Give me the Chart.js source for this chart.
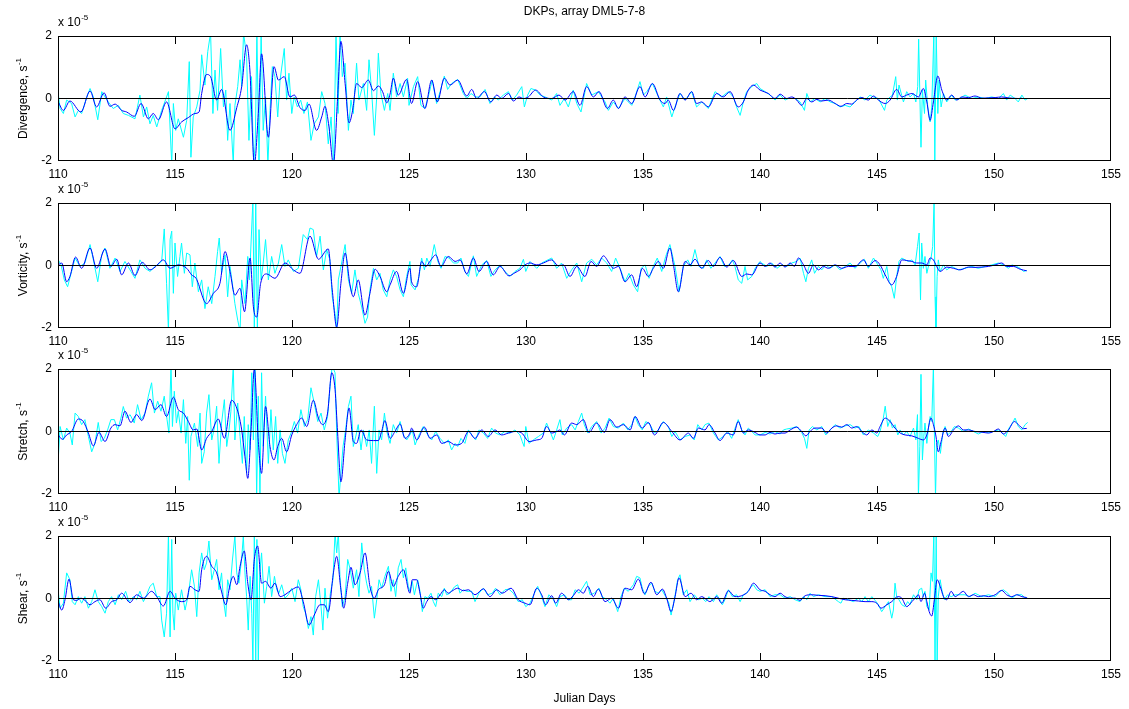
<!DOCTYPE html>
<html>
<head>
<meta charset="utf-8">
<script src="https://cdn.jsdelivr.net/npm/chart.js@4.4.0/dist/chart.umd.min.js"></script>
<style>
    html, body { margin: 0; padding: 0; background: #fff; }
    #wrap { position: relative; width: 1129px; height: 709px; }
    #wrap canvas { position: absolute; left: 0; top: 0; }
</style>
</head>
<body>
<div id="wrap">
    <canvas id="c0" width="1129" height="709"></canvas>
    <canvas id="c1" width="1129" height="709"></canvas>
    <canvas id="c2" width="1129" height="709"></canvas>
    <canvas id="c3" width="1129" height="709"></canvas>
</div>
<script>
// DKPs, array DML5-7-8 - four stacked panels, values in units of 1e-5 s^-1
// Each series is a list of [julian day, value] readings

const chartTitle = 'DKPs, array DML5-7-8';
const xLabel = 'Julian Days';
const panelLabels = ['Divergence, s', 'Vorticity, s', 'Stretch, s', 'Shear, s'];
const xTickValues = [110, 115, 120, 125, 130, 135, 140, 145, 150, 155];
const yTickValues = [-2, 0, 2];

// Divergence
const divCyan = [
    [110.01,0.16],[110.09,-0.32],[110.23,-0.48],[110.37,-0.05],[110.58,-0.16],[110.73,-0.59],[110.87,-0.38],[111.01,-0.48],[111.23,0.05],[111.37,0.32],[111.51,0.05],[111.7,-0.68],[111.87,0.22],[112.01,0.05],[112.15,-0.11],[112.36,-0.32],[112.58,-0.22],[112.79,-0.48],[113.01,-0.54],[113.29,-0.65],[113.5,0.11],[113.65,-0.59],[113.79,-0.27],[113.93,-0.81],[114.07,-0.54],[114.22,-0.91],[114.43,-0.38],[114.64,0.05],[114.72,0.22],[114.86,-2.1],[114.93,-0.16],[115.03,-1.02],[115.14,-0.65],[115.36,-1.24],[115.5,-0.7],[115.61,1.18],[115.68,-1.88],[115.78,-0.59],[115.93,-0.27],[116.07,0.27],[116.14,1.4],[116.28,0.43],[116.4,1.5],[116.52,2.1],[116.62,-0.48],[116.71,0.91],[116.82,-0.38],[116.95,1.6],[117.07,-0.27],[117.17,0.27],[117.25,-1.34],[117.35,-0.16],[117.49,-2.1],[117.56,-0.22],[117.68,0.38],[117.78,1.24],[117.85,0.38],[117.93,2.1],[118.06,1.34],[118.16,-1.34],[118.27,0.7],[118.36,-2.1],[118.43,-1.45],[118.5,2.1],[118.59,-2.1],[118.68,2.1],[118.77,-1.02],[118.87,0.05],[118.97,-2.1],[119.06,-0.38],[119.16,1.02],[119.27,0.7],[119.39,-0.59],[119.49,0.59],[119.67,1.6],[119.77,-0.05],[119.87,0.81],[119.99,-0.48],[120.09,0.05],[120.23,-0.27],[120.37,-0.05],[120.51,-0.48],[120.66,-0.11],[120.81,-1.34],[120.95,-0.81],[121.13,-0.59],[121.27,0.22],[121.41,-0.16],[121.55,-1.45],[121.67,-0.59],[121.78,-2.1],[121.88,2.1],[121.97,-0.48],[122.05,2.1],[122.15,0.7],[122.27,1.13],[122.41,-1.02],[122.52,-0.05],[122.62,-0.48],[122.76,1.13],[122.86,-0.05],[123.05,0.48],[123.19,-0.38],[123.29,1.24],[123.4,0.27],[123.52,-1.18],[123.62,0.05],[123.69,1.45],[123.8,0.16],[123.95,-0.38],[124.09,0.16],[124.19,-0.38],[124.33,0.81],[124.47,0.05],[124.62,0.48],[124.76,0.05],[124.94,0.65],
    [125.0,-0.22],[125.19,0.38],[125.37,0.7],[125.51,-0.22],[125.68,-0.32],[125.86,0.16],[125.99,0.59],[126.18,-0.16],[126.33,0.22],[126.51,0.72],[126.65,0.29],[126.82,0.48],[127.08,0.61],[127.32,0.16],[127.47,0],[127.65,0.16],[127.85,0.05],[128.03,0.05],[128.25,0.29],[128.46,-0.16],[128.65,0.05],[128.82,-0.05],[129.03,0.11],[129.25,0.22],[129.42,-0.05],[129.6,0.11],[129.82,0.38],[129.93,-0.27],[130.07,0.11],[130.21,0.32],[130.41,0.27],[130.6,0.11],[130.81,0.05],[131.1,-0.05],[131.31,0.16],[131.45,-0.22],[131.64,0],[131.81,-0.27],[132.02,0.27],[132.17,-0.16],[132.35,-0.43],[132.59,0.48],[132.81,0.11],[133.09,0.22],[133.38,-0.11],[133.52,-0.38],[133.73,-0.11],[133.95,-0.32],[134.23,0],[134.52,-0.22],[134.66,0.05],[134.87,0.54],[135.02,0.11],[135.16,0.22],[135.4,0.48],[135.66,0.05],[135.87,-0.27],[136.01,0.05],[136.23,-0.59],[136.37,-0.27],[136.58,0.16],[136.8,-0.05],[137.08,0.22],[137.29,-0.27],[137.51,-0.11],[137.79,-0.32],[138.08,0.22],[138.36,0.05],[138.65,0.22],[138.86,0.05],[139.0,-0.27],[139.15,-0.54],[139.29,-0.11],[139.43,0.22],[139.65,0.38],[139.86,0.48],[140.0,0.32],
    [140.22,0.22],[140.43,0.11],[140.64,-0.05],[140.86,0.11],[141.07,-0.05],[141.21,0],[141.5,0],[141.71,-0.11],[141.9,-0.38],[142.0,0.16],[142.14,-0.11],[142.35,0],[142.57,-0.11],[142.78,0],[143.0,-0.11],[143.21,-0.16],[143.42,-0.27],[143.64,-0.22],[143.85,-0.27],[144.06,-0.11],[144.28,0.05],[144.49,-0.05],[144.7,0.11],[144.85,0.05],[145.06,0],[145.32,-0.38],[145.42,-0.05],[145.56,0.05],[145.66,0.11],[145.8,0.7],[145.87,-0.05],[145.94,0.43],[146.13,-0.11],[146.27,0.22],[146.41,0.05],[146.56,0.16],[146.66,-0.11],[146.74,0.38],[146.78,1.9],[146.88,-1.56],[146.94,0.27],[147.03,-0.48],[147.08,0.59],[147.17,-0.27],[147.27,-0.75],[147.34,-0.27],[147.43,2.1],[147.47,-2.1],[147.53,2.1],[147.6,-0.48],[147.65,0.59],[147.74,-0.27],[147.84,0.16],[147.98,-0.11],[148.19,0.11],[148.34,-0.05],[148.55,0],[148.76,0.11],[149.05,0],[149.33,0.05],[149.62,0],[149.9,0.05],[150.19,0],[150.4,0.16],[150.54,-0.05],[150.69,0.11],[150.9,0],[151.04,-0.11],[151.19,0.11],[151.33,-0.05],[151.44,0]
];
const divBlue = [
    [110.01,-0.11],[110.23,-0.38],[110.51,-0.08],[110.98,-0.43],[111.37,0.24],[111.65,-0.27],[111.97,0.18],[112.22,-0.25],[112.44,-0.18],[112.72,-0.38],[112.93,-0.43],[113.26,-0.57],[113.55,-0.16],[113.86,-0.65],[114.07,-0.48],[114.29,-0.68],[114.64,-0.11],[115.0,-0.97],[115.28,-0.75],[115.57,-0.61],[115.85,-0.48],[116.03,-0.43],[116.14,0.16],[116.35,0.77],[116.52,0.7],[116.78,-0.05],[116.99,0.29],[117.35,-1.02],[117.64,-0.29],[117.85,0.38],[118.06,1.72],[118.2,0.91],[118.39,-2.1],[118.56,-0.48],[118.7,1.43],[118.99,-1.24],[119.23,1.02],[119.42,0.59],[119.67,0.7],[119.91,0.05],[120.1,0.11],[120.34,-0.29],[120.56,-0.38],[120.73,-0.18],[121.05,-1.02],[121.27,-0.59],[121.41,-0.25],[121.58,-0.91],[121.77,-2.1],[121.95,0.05],[122.09,1.83],[122.27,0.48],[122.44,-0.78],[122.59,-0.38],[122.76,0.48],[122.98,0.35],[123.26,0.59],[123.48,0.25],[123.69,0.4],[123.87,0.22],[124.05,-0.14],[124.19,0.14],[124.33,0.65],[124.54,0.11],[124.9,0.61],
    [125.11,-0.16],[125.37,0.54],[125.68,-0.32],[125.97,0.59],[126.21,-0.11],[126.51,0.65],[126.75,0.43],[127.08,0.59],[127.47,0.08],[127.68,0.29],[127.89,0],[128.22,0.22],[128.5,-0.11],[128.75,0.11],[128.96,0],[129.25,0.16],[129.46,-0.08],[129.7,0.05],[129.89,0],[130.1,0.05],[130.41,0.27],[130.74,0.05],[131.1,0],[131.41,0.11],[131.67,-0.05],[132.02,0.22],[132.31,-0.22],[132.59,0.38],[132.88,0.05],[133.12,0.22],[133.48,-0.32],[133.73,-0.05],[133.95,-0.32],[134.23,0.05],[134.52,-0.16],[134.87,0.38],[135.09,0.05],[135.4,0.48],[135.73,-0.05],[135.94,-0.16],[136.08,-0.05],[136.3,-0.38],[136.58,0.16],[136.8,-0.05],[137.08,0.22],[137.29,-0.16],[137.51,-0.11],[137.79,-0.27],[138.15,0.16],[138.43,0.05],[138.72,0.22],[139.07,-0.27],[139.29,-0.11],[139.5,0.27],[139.72,0.43],[140.0,0.27],
    [140.36,0.16],[140.64,0],[140.86,0.14],[141.14,0],[141.36,0.05],[141.57,-0.05],[141.78,-0.22],[142.0,0],[142.21,-0.11],[142.43,-0.03],[142.64,-0.08],[142.92,-0.05],[143.21,-0.16],[143.46,-0.25],[143.71,-0.16],[143.92,-0.18],[144.13,-0.05],[144.35,0.03],[144.63,-0.05],[144.85,0.08],[145.06,-0.05],[145.35,-0.16],[145.56,-0.05],[145.84,0.29],[146.06,0.05],[146.27,0.11],[146.49,0.16],[146.77,0.05],[146.98,0.32],[147.13,-0.11],[147.27,-0.7],[147.41,-0.11],[147.6,0.72],[147.77,0.27],[147.98,-0.05],[148.19,0.11],[148.41,-0.05],[148.62,0.05],[148.91,0.03],[149.19,0.08],[149.48,0.01],[149.76,0.02],[150.05,0.03],[150.33,0.05],[150.62,0.02],[151.04,0],[151.2,0.01]
];

// Vorticity
const vortCyan = [
    [110.01,0.18],[110.13,0.02],[110.27,-0.46],[110.41,-0.68],[110.56,-0.25],[110.73,0.24],[110.94,-0.03],[111.15,0.08],[111.37,0.67],[111.51,0.18],[111.7,-0.52],[111.87,0.34],[112.01,0.56],[112.22,-0.09],[112.44,0.24],[112.65,-0.19],[112.86,0.13],[113.08,-0.14],[113.29,-0.41],[113.5,0.18],[113.72,-0.09],[113.93,-0.19],[114.15,-0.03],[114.43,0.13],[114.54,1.17],[114.64,-0.57],[114.72,-2.1],[114.79,0.83],[114.86,1.1],[114.93,-0.89],[115.0,0.72],[115.11,-0.35],[115.21,0.29],[115.28,0.72],[115.4,-0.25],[115.5,0.4],[115.64,0.34],[115.74,-0.68],[115.85,0.08],[116.0,-0.84],[116.14,-0.46],[116.28,-1.38],[116.42,-0.68],[116.57,-1.22],[116.71,-0.35],[116.82,0.45],[116.89,0.88],[116.99,-0.25],[117.14,0.34],[117.25,-1.0],[117.35,-0.03],[117.45,-0.57],[117.56,-1.22],[117.68,-1.75],[117.78,-2.1],[117.85,-0.46],[117.99,-1.22],[118.11,0.29],[118.18,-0.46],[118.25,0.72],[118.33,2.1],[118.39,-2.1],[118.45,2.1],[118.52,-2.1],[118.59,1.15],[118.68,-0.46],[118.77,0.08],[118.87,0.83],[118.99,-0.46],[119.13,0.29],[119.27,-0.25],[119.42,0.08],[119.56,0.67],[119.7,-0.03],[119.84,0.18],[120.06,-0.19],[120.27,-0.09],[120.48,0.99],[120.66,0.83],[120.77,1.2],[120.91,1.15],[121.05,0.29],[121.2,0.94],[121.34,-0.14],[121.48,0.51],[121.62,0.18],[121.72,-1.0],[121.84,-1.54],[121.91,-2.1],[121.98,-0.46],[122.12,0.08],[122.27,0.67],[122.41,-0.46],[122.55,-0.89],[122.69,-0.14],[122.83,-0.89],[122.98,-1.33],[123.12,-1.85],[123.23,-1.65],[123.33,-0.78],[123.48,-0.09],[123.62,-0.46],[123.76,-0.25],[123.9,-0.78],[124.05,-1.0],[124.19,-0.46],[124.33,-0.14],[124.47,-0.35],[124.62,-0.78],[124.76,-1.0],[124.9,-0.35],[125.04,0.13],
    [125.09,-0.62],[125.26,-0.78],[125.43,-0.35],[125.54,0.24],[125.66,-0.14],[125.76,0.24],[125.9,-0.03],[126.08,0.67],[126.23,0.13],[126.37,-0.09],[126.54,0.29],[126.71,0.24],[126.9,0.08],[127.08,0.08],[127.22,0.24],[127.39,-0.19],[127.54,-0.35],[127.75,0.31],[127.89,-0.35],[128.11,0.02],[128.32,0.16],[128.5,-0.35],[128.68,-0.14],[128.89,0.02],[129.1,-0.19],[129.32,-0.35],[129.53,-0.19],[129.74,-0.09],[129.89,0.2],[129.99,-0.19],[130.17,0.13],[130.46,-0.09],[130.67,0.08],[131.1,0.24],[131.31,-0.09],[131.52,0.08],[131.74,-0.41],[131.95,-0.14],[132.17,0.08],[132.38,-0.52],[132.59,0.08],[132.81,0.2],[133.02,0.02],[133.23,0.24],[133.45,0.08],[133.66,-0.19],[133.83,0.24],[134.02,-0.09],[134.23,-0.52],[134.4,-0.25],[134.59,-0.62],[134.77,-0.84],[134.92,-0.09],[135.09,0.02],[135.26,-0.41],[135.44,-0.03],[135.61,0.24],[135.8,-0.19],[135.97,0.29],[136.15,0.67],[136.37,-0.03],[136.54,-0.84],[136.72,-0.03],[136.91,0.18],[137.05,-0.03],[137.22,0.51],[137.39,-0.03],[137.58,-0.09],[137.72,0.18],[137.9,-0.09],[138.08,0.08],[138.29,0.29],[138.48,-0.03],[138.68,0.02],[138.82,0.18],[138.93,-0.03],[139.07,-0.46],[139.22,-0.57],[139.36,-0.03],[139.47,-0.46],[139.65,-0.35],[139.79,-0.09],[140.0,0.13],
    [140.07,0.08],[140.29,-0.03],[140.5,0.08],[140.72,-0.09],[140.93,0.02],[141.14,-0.03],[141.36,0.08],[141.57,0.13],[141.71,0.24],[141.86,-0.25],[141.96,-0.52],[142.07,-0.09],[142.21,0.18],[142.33,-0.25],[142.5,-0.03],[142.64,-0.14],[142.81,0.02],[142.99,-0.09],[143.21,0.02],[143.42,-0.14],[143.64,-0.03],[143.85,0.08],[144.06,-0.09],[144.28,0.08],[144.46,0.2],[144.63,-0.09],[144.85,0.24],[144.99,0.08],[145.17,-0.14],[145.27,-0.41],[145.42,-0.03],[145.52,-0.52],[145.63,-0.68],[145.74,-1.05],[145.84,-0.35],[145.94,0.13],[146.06,0.24],[146.2,0.18],[146.34,0.13],[146.49,0.18],[146.63,0.02],[146.73,0.61],[146.8,1.04],[146.86,-1.1],[146.91,0.72],[146.98,-0.09],[147.05,0.29],[147.13,-0.25],[147.23,0.08],[147.31,0.24],[147.38,0.61],[147.44,2.1],[147.48,-1.0],[147.52,-2.1],[147.57,-0.35],[147.62,0.18],[147.7,-0.19],[147.84,0.02],[147.98,-0.14],[148.19,-0.03],[148.48,-0.14],[148.76,-0.09],[149.05,-0.03],[149.33,-0.09],[149.62,-0.03],[149.9,0.02],[150.19,0.08],[150.4,0.02],[150.62,-0.09],[150.76,0.02],[150.97,-0.03],[151.12,-0.09],[151.26,-0.19],[151.4,-0.16]
];
const vortBlue = [
    [110.01,0.02],[110.16,0.08],[110.37,-0.52],[110.51,-0.35],[110.75,0.27],[111.01,-0.09],[111.37,0.56],[111.65,-0.09],[112.01,0.53],[112.26,-0.03],[112.51,0.2],[112.72,-0.3],[113.01,0.08],[113.29,-0.32],[113.6,0.1],[113.93,-0.14],[114.15,-0.05],[114.5,0.18],[114.79,-0.09],[115.14,0.02],[115.5,-0.09],[115.71,-0.3],[115.9,-0.41],[116.35,-1.22],[116.64,-0.89],[116.92,-0.57],[117.14,0.45],[117.35,-0.19],[117.56,-0.95],[117.78,-0.73],[117.97,-1.48],[118.21,0.24],[118.35,-1.32],[118.49,-1.65],[118.66,-0.57],[118.92,-0.27],[119.27,-0.41],[119.7,0.08],[120.06,-0.14],[120.34,-0.25],[120.77,0.94],[121.13,0.2],[121.55,0.53],[121.72,-0.78],[121.91,-1.97],[122.09,-0.57],[122.27,0.4],[122.48,-0.62],[122.62,-1.0],[122.83,-0.46],[123.12,-1.59],[123.33,-0.89],[123.55,-0.12],[123.76,-0.35],[124.05,-0.84],[124.19,-0.62],[124.47,-0.19],[124.76,-0.89],[125.04,-0.09],
    [125.11,-0.52],[125.33,-0.68],[125.54,0.13],[125.71,-0.03],[125.94,0.18],[126.14,0.34],[126.37,-0.03],[126.68,0.29],[126.97,0.13],[127.18,0.18],[127.47,-0.27],[127.75,0.24],[127.99,-0.19],[128.32,0.13],[128.6,-0.3],[128.89,-0.03],[129.27,-0.33],[129.53,-0.23],[129.74,-0.14],[129.96,0.02],[130.17,0.08],[130.46,0.02],[130.74,0.08],[131.1,0.18],[131.38,-0.01],[131.6,0.02],[131.88,-0.35],[132.17,-0.03],[132.52,-0.35],[132.78,0.13],[133.02,-0.03],[133.31,0.31],[133.55,0.08],[133.73,-0.09],[133.95,-0.03],[134.23,-0.52],[134.52,-0.3],[134.73,-0.68],[134.97,-0.09],[135.23,-0.35],[135.44,-0.09],[135.66,0.13],[135.87,-0.09],[136.15,0.56],[136.3,0.02],[136.51,-0.84],[136.8,0.13],[137.01,0.02],[137.22,0.2],[137.51,-0.09],[137.79,0.16],[138.01,-0.03],[138.29,0.26],[138.58,-0.05],[138.86,0.16],[139.22,-0.35],[139.43,-0.27],[139.65,-0.3],[140.0,0.08],
    [140.22,-0.03],[140.43,0.08],[140.64,-0.05],[140.86,0.08],[141.07,-0.05],[141.29,0.08],[141.47,-0.03],[141.64,0.24],[141.86,0.02],[142.07,-0.25],[142.28,0.02],[142.5,-0.14],[142.71,-0.03],[142.92,-0.09],[143.21,0.02],[143.49,-0.09],[143.78,-0.03],[144.06,-0.03],[144.42,0.18],[144.63,-0.03],[144.92,0.16],[145.13,0.02],[145.35,-0.3],[145.63,-0.62],[145.84,-0.35],[146.06,0.18],[146.27,0.16],[146.49,0.13],[146.7,0.08],[146.91,0.08],[147.13,0.02],[147.27,0.24],[147.41,0.18],[147.55,-0.03],[147.7,-0.19],[147.98,-0.05],[148.27,-0.09],[148.55,-0.14],[148.91,-0.05],[149.19,-0.06],[149.48,-0.05],[149.76,-0.03],[150.05,0.02],[150.33,0.08],[150.54,-0.03],[150.83,-0.03],[151.12,-0.12],[151.4,-0.17]
];

// Stretch
const strCyan = [
    [110.01,-0.91],[110.09,0.16],[110.23,-0.27],[110.37,0.11],[110.51,-0.05],[110.61,-0.43],[110.73,0.59],[110.87,0.48],[111.01,0.22],[111.15,0.38],[111.3,-0.16],[111.44,-0.65],[111.58,-0.38],[111.72,0.29],[111.84,-0.32],[111.98,-0.22],[112.12,0.05],[112.26,0.38],[112.41,0.38],[112.55,0.05],[112.69,0.43],[112.79,0.8],[112.93,0.43],[113.08,0.54],[113.26,0.27],[113.4,0.86],[113.55,0.38],[113.72,0.59],[113.86,1.13],[114.0,1.56],[114.12,0.59],[114.26,0.97],[114.4,0.65],[114.54,1.13],[114.66,0.38],[114.74,-0.05],[114.83,2.1],[114.89,0.16],[114.97,1.29],[115.06,0.27],[115.14,0.65],[115.26,-0.05],[115.36,1.02],[115.46,-0.38],[115.54,0.48],[115.61,-1.56],[115.68,-0.16],[115.83,0.27],[115.97,-0.48],[116.07,0.59],[116.14,-1.02],[116.25,-0.65],[116.35,0.59],[116.45,1.18],[116.57,-0.27],[116.68,0.11],[116.78,0.81],[116.88,-1.02],[116.99,0.27],[117.11,1.02],[117.21,-0.48],[117.31,0.05],[117.39,0.65],[117.49,2.1],[117.56,-0.27],[117.68,0.91],[117.78,-0.16],[117.88,-1.02],[117.96,0.48],[118.06,-1.34],[118.13,0.22],[118.21,-0.59],[118.28,1.88],[118.35,-0.27],[118.42,2.1],[118.49,-2.1],[118.56,1.13],[118.63,-2.1],[118.7,1.88],[118.77,-0.48],[118.87,1.13],[118.99,-1.02],[119.1,0.7],[119.2,-0.59],[119.3,0.48],[119.39,-1.02],[119.49,0.05],[119.59,-0.7],[119.7,-1.02],[119.84,-0.27],[119.96,-0.05],[120.1,0.32],[120.24,-0.05],[120.38,0.7],[120.53,0.16],[120.67,0.38],[120.81,1.4],[120.95,0.91],[121.1,0.32],[121.24,0.59],[121.38,0.05],[121.52,0.48],[121.64,1.56],[121.72,2.1],[121.84,1.88],[121.91,-0.05],[122.01,-2.1],[122.09,-1.34],[122.18,-0.48],[122.29,0.05],[122.41,0.8],[122.52,1.13],[122.62,-0.48],[122.74,-0.11],[122.83,0.22],[122.95,-0.59],[123.05,0.05],[123.19,-0.48],[123.3,0.05],[123.4,-1.02],[123.52,0.81],[123.62,-1.34],[123.72,0.05],[123.83,-0.27],[123.95,0.59],[124.05,0],[124.19,-0.38],[124.33,0.22],[124.47,-0.05],[124.62,0.32],[124.76,-0.11],[124.9,-0.27],[125.04,-0.11],
    [125.14,0.05],[125.26,-0.43],[125.43,-0.11],[125.61,0.16],[125.8,-0.11],[125.97,-0.27],[126.14,0],[126.33,-0.22],[126.51,-0.38],[126.68,-0.27],[126.82,-0.59],[126.97,-0.38],[127.08,-0.48],[127.22,-0.22],[127.39,-0.38],[127.54,0.05],[127.68,-0.11],[127.85,-0.27],[127.99,0.05],[128.18,-0.05],[128.36,-0.22],[128.53,0.11],[128.7,-0.05],[128.89,-0.11],[129.1,0],[129.32,-0.05],[129.53,0.05],[129.74,-0.11],[129.84,-0.32],[129.92,-0.48],[129.99,0.16],[130.13,-0.38],[130.31,-0.27],[130.53,-0.16],[130.74,-0.05],[130.88,0.27],[131.03,0],[131.17,-0.27],[131.31,0.05],[131.45,0.38],[131.55,-0.11],[131.74,0.11],[131.95,0.22],[132.1,0.05],[132.24,0.32],[132.38,0.59],[132.49,0.22],[132.64,-0.05],[132.81,0.16],[133.02,0.32],[133.21,-0.05],[133.38,0.11],[133.55,0.43],[133.73,0.16],[133.95,0.11],[134.16,0.27],[134.35,0.05],[134.52,0.22],[134.66,0.48],[134.8,0.22],[134.97,0.05],[135.12,0.32],[135.3,0.22],[135.49,-0.05],[135.66,0.05],[135.87,0.32],[136.08,0.16],[136.23,-0.16],[136.37,0],[136.58,-0.27],[136.8,-0.16],[137.01,-0.11],[137.19,-0.27],[137.34,0.22],[137.51,0.05],[137.65,0.22],[137.82,0.27],[138.01,-0.05],[138.22,-0.27],[138.43,-0.16],[138.62,0],[138.79,-0.22],[138.96,0.16],[139.07,0.38],[139.22,0.05],[139.36,-0.11],[139.5,0.11],[139.65,0],[139.79,-0.11],[140.0,-0.11],
    [140.22,-0.03],[140.43,-0.08],[140.64,0],[140.86,-0.08],[141.0,0.05],[141.14,0.08],[141.36,0.11],[141.57,0.16],[141.78,-0.03],[141.9,-0.22],[142.0,-0.54],[142.1,0.05],[142.24,0.16],[142.43,0.05],[142.64,0.16],[142.81,-0.11],[143.0,0.05],[143.21,0.22],[143.42,0.11],[143.64,0.18],[143.85,0.22],[144.06,0.11],[144.23,0.16],[144.42,-0.11],[144.63,0.05],[144.85,-0.05],[145.03,-0.16],[145.13,0],[145.27,0.43],[145.35,0.81],[145.46,0.16],[145.56,0.38],[145.66,0.11],[145.77,0.22],[145.89,-0.11],[145.99,0.05],[146.13,-0.11],[146.27,0],[146.41,-0.16],[146.56,0.11],[146.66,-0.27],[146.73,0.54],[146.77,-2.1],[146.83,-0.48],[146.88,1.83],[146.94,-0.91],[147.0,-0.16],[147.05,0.27],[147.13,-0.38],[147.2,0.11],[147.27,0.48],[147.34,0.32],[147.41,2.1],[147.45,0.05],[147.5,-2.1],[147.55,-0.43],[147.62,-0.27],[147.71,-0.7],[147.81,-0.05],[147.91,0.16],[148.02,-0.11],[148.17,0],[148.31,0.16],[148.48,0.11],[148.69,0],[148.91,0.08],[149.12,0],[149.33,-0.08],[149.55,0],[149.76,-0.03],[149.98,0],[150.19,0.05],[150.36,-0.05],[150.5,-0.16],[150.64,0.11],[150.79,0.27],[150.9,0.43],[151.04,0.16],[151.19,0.05],[151.33,0.22],[151.44,0.29]
];
const strBlue = [
    [110.01,-0.11],[110.19,-0.25],[110.37,-0.11],[110.58,0],[110.87,0.4],[111.08,0.32],[111.3,-0.05],[111.51,-0.46],[111.75,-0.03],[112.01,-0.32],[112.26,0.11],[112.44,0.22],[112.65,0.18],[112.86,0.65],[113.12,0.29],[113.36,0.54],[113.58,0.35],[113.93,1.04],[114.15,0.7],[114.4,0.86],[114.64,0.48],[114.93,1.1],[115.14,0.7],[115.36,0.59],[115.57,0.32],[115.78,0.05],[115.93,0.08],[116.14,-0.59],[116.35,-0.22],[116.57,0],[116.85,0.4],[117.11,-0.22],[117.42,1.0],[117.68,0.65],[117.85,0.05],[117.99,-0.81],[118.11,-1.5],[118.25,0.05],[118.39,2.0],[118.56,-0.32],[118.7,-1.34],[118.87,0.8],[119.06,-0.48],[119.23,-0.91],[119.39,-0.48],[119.56,-0.22],[119.77,-0.65],[119.99,-0.11],[120.2,0.22],[120.41,0.43],[120.63,0.16],[120.91,1.0],[121.13,0.43],[121.31,0.22],[121.52,0.59],[121.7,1.88],[121.84,1.34],[121.95,-0.05],[122.09,-1.61],[122.27,-0.27],[122.44,0.75],[122.62,-0.32],[122.76,-0.38],[122.95,0.05],[123.19,-0.27],[123.48,-0.29],[123.69,-0.29],[123.83,0],[123.97,0.35],[124.19,-0.22],[124.4,0],[124.62,0.24],[124.83,-0.22],[125.04,-0.05],
    [125.11,0.11],[125.33,-0.27],[125.66,0.14],[125.9,-0.22],[126.18,-0.11],[126.4,-0.38],[126.68,-0.32],[126.97,-0.43],[127.25,-0.38],[127.54,0],[127.82,-0.22],[128.11,0.05],[128.39,-0.16],[128.68,0.05],[128.96,-0.11],[129.25,-0.05],[129.53,0],[129.82,-0.05],[130.13,-0.32],[130.46,-0.27],[130.67,-0.22],[130.88,0.16],[131.1,-0.05],[131.31,0],[131.45,0.05],[131.64,-0.11],[131.95,0.27],[132.17,0.22],[132.45,0.38],[132.69,-0.03],[133.02,0.27],[133.35,-0.03],[133.59,0.38],[133.88,0.14],[134.16,0.22],[134.45,0.05],[134.66,0.48],[134.97,0.11],[135.23,0.29],[135.49,-0.11],[135.87,0.29],[136.23,0],[136.58,-0.27],[136.94,-0.05],[137.15,-0.22],[137.37,0.11],[137.65,0.05],[137.82,0.22],[138.08,-0.05],[138.29,-0.29],[138.58,-0.05],[138.86,-0.11],[139.07,0.32],[139.29,-0.05],[139.5,0.05],[139.79,-0.03],[140.0,-0.11],
    [140.22,-0.11],[140.43,-0.03],[140.64,-0.08],[140.86,-0.05],[141.07,-0.05],[141.29,0.05],[141.57,0.14],[141.78,0],[141.96,-0.14],[142.14,0],[142.35,0.11],[142.64,0.11],[142.85,-0.05],[143.07,0.11],[143.28,0.18],[143.49,0.14],[143.71,0.22],[143.92,0.11],[144.13,0.16],[144.35,0],[144.56,-0.11],[144.78,0.05],[144.99,-0.05],[145.13,0.16],[145.35,0.43],[145.56,0.32],[145.77,0.11],[145.99,-0.05],[146.2,-0.11],[146.49,-0.14],[146.77,-0.22],[146.98,-0.27],[147.13,-0.11],[147.31,0.43],[147.41,0.22],[147.51,-0.11],[147.62,-0.65],[147.74,-0.32],[147.91,0.11],[148.05,-0.16],[148.27,0.05],[148.48,0.18],[148.69,0.05],[148.91,0.05],[149.19,0],[149.48,-0.02],[149.76,-0.05],[149.98,0],[150.19,0.08],[150.4,-0.08],[150.62,0.05],[150.87,0.32],[151.04,0.22],[151.26,0.09],[151.4,0.1]
];

// Shear
const shearCyan = [
    [110.01,0.23],[110.09,-0.31],[110.23,-0.15],[110.37,0.82],[110.51,0.6],[110.61,-0.1],[110.73,-0.2],[110.87,0.06],[111.01,-0.15],[111.15,0.06],[111.3,-0.31],[111.44,-0.1],[111.58,0.28],[111.72,-0.1],[111.87,-0.26],[112.01,-0.47],[112.15,-0.1],[112.29,0.06],[112.44,-0.2],[112.58,0.12],[112.72,-0.04],[112.89,0.23],[113.03,-0.1],[113.22,0.06],[113.36,-0.04],[113.5,0.23],[113.65,-0.1],[113.79,0.12],[113.93,0.39],[114.07,0.49],[114.22,0.06],[114.36,0.06],[114.43,-0.69],[114.54,-1.23],[114.64,-0.47],[114.72,2.1],[114.79,-1.23],[114.86,1.89],[114.91,-0.47],[114.97,-1.01],[115.03,0.17],[115.14,-0.37],[115.28,0.28],[115.43,-0.37],[115.57,0.12],[115.71,0.92],[115.83,0.39],[115.93,-0.58],[116.03,0.82],[116.14,1.46],[116.25,0.92],[116.35,1.14],[116.45,1.84],[116.57,0.6],[116.68,0.92],[116.78,1.25],[116.88,0.28],[116.99,0.82],[117.07,-0.04],[117.17,-0.58],[117.25,0.6],[117.35,0.28],[117.45,1.2],[117.56,2.0],[117.64,0.82],[117.73,0.49],[117.85,1.3],[117.92,2.0],[117.99,0.82],[118.06,0.06],[118.13,-1.01],[118.21,0.71],[118.28,-0.47],[118.33,-2.1],[118.39,2.1],[118.45,-2.1],[118.5,1.89],[118.56,-2.1],[118.62,0.82],[118.7,1.46],[118.82,-0.15],[118.92,0.39],[119.02,1.03],[119.13,0.06],[119.25,0.71],[119.35,0.28],[119.44,0.17],[119.56,0.44],[119.7,0.01],[119.84,0.12],[119.99,0.33],[120.13,-0.1],[120.27,0.6],[120.38,0.28],[120.48,-0.26],[120.58,-0.47],[120.7,-0.96],[120.81,-0.58],[120.91,-1.17],[121.01,0.06],[121.13,0.6],[121.24,-0.26],[121.32,-1.01],[121.41,0.33],[121.52,-0.63],[121.64,0.17],[121.75,0.6],[121.84,2.1],[121.91,1.46],[121.98,2.1],[122.05,0.71],[122.15,-0.26],[122.27,0.06],[122.38,1.25],[122.49,0.92],[122.62,0.33],[122.76,0.92],[122.86,0.06],[122.98,1.78],[123.09,0.92],[123.19,0.49],[123.29,0.17],[123.4,0.39],[123.52,-0.63],[123.62,-0.04],[123.72,0.6],[123.83,0.33],[123.97,0.71],[124.12,1.03],[124.23,0.23],[124.33,0.6],[124.43,0.06],[124.54,0.98],[124.66,1.25],[124.76,0.66],[124.86,0.98],[124.97,0.39],[125.04,0.23],
    [125.14,0.55],[125.23,0.12],[125.37,0.6],[125.47,0.23],[125.57,-0.42],[125.68,0.06],[125.8,0.01],[125.94,0.17],[126.04,-0.1],[126.14,-0.26],[126.25,0.17],[126.4,0.06],[126.51,0.33],[126.61,0.12],[126.75,0.17],[126.94,0.37],[127.08,0.44],[127.18,0.17],[127.32,0.28],[127.47,0.23],[127.68,0.23],[127.82,-0.1],[127.99,0.17],[128.18,0.33],[128.36,0.12],[128.56,0.17],[128.7,0.33],[128.89,0.12],[129.1,0.28],[129.27,0.3],[129.46,0.17],[129.67,-0.1],[129.84,-0.04],[129.99,-0.26],[130.17,-0.15],[130.36,0.17],[130.5,0.39],[130.67,0.06],[130.81,-0.26],[130.98,0.12],[131.17,-0.04],[131.31,-0.26],[131.45,0.06],[131.64,0.12],[131.81,-0.04],[131.95,-0.04],[132.1,0.28],[132.27,0.17],[132.41,0.33],[132.59,0.55],[132.74,0.12],[132.92,0.17],[133.12,0.33],[133.26,0.06],[133.45,-0.04],[133.59,-0.15],[133.73,0.01],[133.92,-0.42],[134.06,0.06],[134.2,0.33],[134.37,0.23],[134.59,0.44],[134.73,0.71],[134.87,0.66],[134.97,0.33],[135.09,0.12],[135.23,0.39],[135.37,0.49],[135.51,0.23],[135.66,0.17],[135.8,0.28],[135.97,0.06],[136.11,-0.15],[136.2,-0.53],[136.34,-0.04],[136.48,0.6],[136.58,0.76],[136.72,0.12],[136.87,0.28],[137.01,-0.1],[137.19,0.12],[137.37,-0.04],[137.54,0.01],[137.68,-0.1],[137.82,0.06],[138.01,-0.1],[138.15,0.12],[138.29,-0.04],[138.39,-0.2],[138.5,-0.04],[138.65,0.28],[138.82,0.06],[139.0,0.12],[139.15,-0.1],[139.29,0.12],[139.43,0.17],[139.57,0.33],[139.72,0.44],[139.86,0.28],[140.0,0.23],
    [140.22,0.28],[140.43,0.06],[140.64,0.12],[140.86,0.12],[141.07,0.01],[141.29,0.06],[141.5,-0.04],[141.71,-0.1],[141.86,0.06],[142.0,-0.04],[142.14,0.17],[142.28,0.06],[142.5,0.12],[142.78,0.06],[143.07,0.06],[143.35,-0.1],[143.46,-0.15],[143.56,0.01],[143.78,-0.04],[143.99,-0.1],[144.21,0.01],[144.35,-0.1],[144.49,0.06],[144.63,-0.1],[144.78,0.06],[144.92,-0.06],[145.06,-0.2],[145.2,-0.42],[145.35,-0.26],[145.49,-0.1],[145.63,-0.63],[145.7,-0.37],[145.77,0.49],[145.84,0.06],[145.94,-0.04],[146.06,-0.2],[146.2,-0.26],[146.31,-0.1],[146.41,-0.2],[146.56,0.12],[146.7,-0.04],[146.8,0.28],[146.91,0.33],[146.98,0.06],[147.05,0.23],[147.13,-0.26],[147.23,-0.37],[147.31,0.82],[147.37,0.55],[147.43,2.1],[147.48,-2.1],[147.53,2.1],[147.57,-2.1],[147.62,0.06],[147.7,0.6],[147.77,0.28],[147.88,-0.04],[148.02,0.12],[148.17,0.06],[148.34,0.12],[148.55,0.12],[148.76,0.12],[148.98,0.06],[149.19,0.17],[149.48,0.06],[149.76,0.12],[150.05,0.06],[150.26,0.23],[150.4,0.28],[150.59,0.17],[150.76,0.01],[150.97,0.12],[151.19,0.12],[151.33,0.01],[151.44,0.01]
];
const shearBlue = [
    [110.01,-0.1],[110.16,-0.37],[110.3,-0.04],[110.47,0.62],[110.66,-0.04],[110.8,-0.06],[110.98,0.01],[111.15,-0.06],[111.37,-0.2],[111.58,-0.1],[111.79,-0.04],[112.04,-0.31],[112.29,-0.1],[112.51,-0.04],[112.72,0.17],[113.08,-0.13],[113.36,0.12],[113.65,0.01],[114.0,0.23],[114.22,0.06],[114.5,-0.24],[114.79,0.23],[115.0,0.01],[115.28,-0.1],[115.5,-0.04],[115.64,0.39],[115.85,0.28],[116.03,0.23],[116.14,0.92],[116.35,1.35],[116.57,1.03],[116.78,0.82],[116.97,0.28],[117.17,-0.2],[117.35,0.44],[117.49,0.71],[117.64,0.44],[117.78,1.03],[117.96,1.52],[118.11,0.49],[118.25,-0.04],[118.39,1.25],[118.53,1.68],[118.7,0.49],[118.87,0.55],[119.1,0.33],[119.27,0.49],[119.49,0.06],[119.7,0.12],[119.99,0.28],[120.27,0.37],[120.48,-0.1],[120.73,-0.85],[120.95,-0.53],[121.2,-0.2],[121.38,-0.2],[121.55,-0.42],[121.77,0.82],[121.91,1.35],[122.09,0.28],[122.21,-0.31],[122.38,0.49],[122.52,1.0],[122.69,0.44],[122.91,0.82],[123.12,1.46],[123.33,0.39],[123.52,0.01],[123.69,0.28],[123.95,0.44],[124.12,0.87],[124.33,0.39],[124.54,0.71],[124.76,0.92],[125.04,0.17],
    [125.14,0.6],[125.33,0.6],[125.47,0.17],[125.61,-0.31],[125.76,-0.1],[125.94,0.06],[126.14,-0.04],[126.33,0.12],[126.51,0.28],[126.68,0.17],[126.82,0.23],[127.08,0.33],[127.32,0.25],[127.54,0.28],[127.82,0.12],[128.18,0.31],[128.46,0.06],[128.75,0.28],[128.99,0.17],[129.36,0.33],[129.67,-0.04],[129.96,-0.15],[130.17,-0.2],[130.46,0.33],[130.67,0.12],[130.84,-0.2],[131.1,0.09],[131.27,-0.15],[131.52,0.17],[131.81,-0.04],[132.02,0.09],[132.24,0.28],[132.45,0.17],[132.64,0.39],[132.88,0.06],[133.09,0.3],[133.38,-0.1],[133.66,0.01],[133.95,-0.31],[134.23,0.33],[134.52,0.28],[134.8,0.62],[135.06,0.15],[135.34,0.52],[135.59,0.12],[135.83,0.3],[136.01,0.01],[136.2,-0.42],[136.37,0.06],[136.54,0.66],[136.8,0.06],[137.05,0.17],[137.29,-0.04],[137.51,0.06],[137.72,-0.04],[137.86,-0.1],[138.15,0.06],[138.36,-0.15],[138.65,0.25],[138.93,0.06],[139.22,0.09],[139.5,0.23],[139.72,0.49],[140.0,0.28],
    [140.22,0.23],[140.43,0.12],[140.64,0.06],[140.86,0.17],[141.07,0.06],[141.29,0.01],[141.5,0.01],[141.71,-0.06],[141.93,0.09],[142.21,0.12],[142.5,0.1],[142.78,0.09],[143.07,0.06],[143.35,0.01],[143.64,-0.04],[143.92,-0.06],[144.21,-0.08],[144.49,-0.1],[144.78,-0.1],[144.99,-0.15],[145.17,-0.31],[145.42,-0.2],[145.63,-0.1],[145.89,0.06],[146.06,0.01],[146.27,-0.26],[146.49,-0.1],[146.63,0.01],[146.77,0.12],[146.88,-0.1],[147.03,0.17],[147.13,-0.1],[147.23,-0.42],[147.34,-0.56],[147.45,-0.04],[147.57,0.6],[147.7,0.39],[147.84,0.06],[147.98,-0.04],[148.17,0.23],[148.34,0.06],[148.48,0.12],[148.69,0.23],[148.91,0.06],[149.12,0.12],[149.33,0.06],[149.55,0.09],[149.76,0.06],[150.05,0.12],[150.33,0.26],[150.54,0.12],[150.76,0.06],[150.97,0.12],[151.19,0.06],[151.4,0.03]
];

const cyanSeries = [divCyan, vortCyan, strCyan, shearCyan];
const blueSeries = [divBlue, vortBlue, strBlue, shearBlue];

// layout (pixels)
const panelTops = [36, 203, 369, 536];
const PLOT_H = 125;
const PLOT_LEFT = 58;
const PLOT_RIGHT_PAD = 18;
const X_AXIS_H = 24;
const TICK = 8;
const FONT = '"Liberation Sans", Arial, Helvetica, sans-serif';

function toXY(pairs) {
    return pairs.map(p => ({ x: p[0], y: p[1] }));
}

// draw "base" followed by a raised smaller "sup", starting at x, baseline y
function drawSup(ctx, base, sup, x, y) {
    ctx.font = '12px ' + FONT;
    ctx.textAlign = 'left';
    ctx.fillText(base, x, y);
    const w = ctx.measureText(base).width;
    ctx.font = '8px ' + FONT;
    ctx.fillText(sup, x + w + 0.5, y - 6);
}

function supWidth(ctx, base, sup) {
    ctx.font = '12px ' + FONT;
    const w = ctx.measureText(base).width;
    ctx.font = '8px ' + FONT;
    return w + 0.5 + ctx.measureText(sup).width;
}

// MATLAB style box, inward ticks and labels
const matlabDecor = {
    id: 'matlabDecor',
    afterDraw(chart, args, opts) {
        const { ctx, chartArea: a } = chart;
        const xs = chart.scales.x;
        const ys = chart.scales.y;
        ctx.save();
        ctx.strokeStyle = '#000';
        ctx.fillStyle = '#000';
        ctx.lineWidth = 1;
        ctx.strokeRect(a.left + 0.5, a.top + 0.5, a.right - a.left - 1, a.bottom - a.top - 1);

        ctx.beginPath();
        xs.ticks.forEach(t => {
            const px = Math.min(Math.floor(xs.getPixelForValue(t.value)), a.right - 1) + 0.5;
            ctx.moveTo(px, a.top);
            ctx.lineTo(px, a.top + TICK);
            ctx.moveTo(px, a.bottom);
            ctx.lineTo(px, a.bottom - TICK);
        });
        ys.ticks.forEach(t => {
            const py = Math.min(Math.floor(ys.getPixelForValue(t.value)), a.bottom - 1) + 0.5;
            ctx.moveTo(a.left, py);
            ctx.lineTo(a.left + TICK, py);
            ctx.moveTo(a.right, py);
            ctx.lineTo(a.right - TICK, py);
        });
        ctx.stroke();

        // exponent label above the axes
        ctx.textBaseline = 'alphabetic';
        drawSup(ctx, 'x 10', '-5', a.left, a.top - 10);

        // rotated y label with superscript
        const label = opts.label;
        const w = supWidth(ctx, label, '-1');
        ctx.save();
        ctx.translate(27, (a.top + a.bottom) / 2);
        ctx.rotate(-Math.PI / 2);
        drawSup(ctx, label, '-1', -w / 2, 0);
        ctx.restore();

        ctx.font = '12px ' + FONT;
        ctx.textAlign = 'center';
        ctx.textBaseline = 'middle';
        const cx = (a.left + a.right) / 2;
        if (opts.title) ctx.fillText(opts.title, cx, 12);
        if (opts.xTitle) ctx.fillText(opts.xTitle, cx, 699);
        ctx.restore();
    }
};

function makePanel(i) {
    const top = panelTops[i];
    return new Chart(document.getElementById('c' + i), {
        type: 'line',
        data: {
            datasets: [
                {
                    data: [{ x: xTickValues[0], y: 0 }, { x: xTickValues[xTickValues.length - 1], y: 0 }],
                    borderColor: '#000000',
                    borderWidth: 1
                },
                {
                    data: toXY(blueSeries[i]),
                    borderColor: '#0000ff',
                    borderWidth: 1,
                    cubicInterpolationMode: 'monotone'
                },
                {
                    data: toXY(cyanSeries[i]),
                    borderColor: '#00ffff',
                    borderWidth: 1
                }
            ]
        },
        options: {
            responsive: false,
            animation: false,
            events: [],
            layout: {
                padding: { top: top, bottom: 709 - top - PLOT_H - X_AXIS_H, left: 0, right: PLOT_RIGHT_PAD }
            },
            elements: {
                point: { radius: 0 },
                line: { tension: 0, fill: false }
            },
            plugins: {
                legend: { display: false },
                tooltip: { enabled: false },
                matlabDecor: {
                    label: panelLabels[i],
                    title: i === 0 ? chartTitle : null,
                    xTitle: i === 3 ? xLabel : null
                }
            },
            scales: {
                x: {
                    type: 'linear',
                    min: xTickValues[0],
                    max: xTickValues[xTickValues.length - 1],
                    afterBuildTicks: s => { s.ticks = xTickValues.map(v => ({ value: v })); },
                    ticks: { color: '#000', font: { family: FONT, size: 12 }, padding: 6, maxRotation: 0, autoSkip: false },
                    grid: { display: false, drawTicks: false },
                    border: { display: false },
                    afterFit: s => { s.height = X_AXIS_H; }
                },
                y: {
                    min: yTickValues[0],
                    max: yTickValues[yTickValues.length - 1],
                    afterBuildTicks: s => { s.ticks = yTickValues.map(v => ({ value: v })); },
                    ticks: { color: '#000', font: { family: FONT, size: 12 }, padding: 6 },
                    grid: { display: false, drawTicks: false },
                    border: { display: false },
                    afterFit: s => { s.width = PLOT_LEFT; }
                }
            }
        },
        plugins: [matlabDecor]
    });
}

for (let i = 0; i < 4; i++) makePanel(i);
</script>
</body>
</html>
